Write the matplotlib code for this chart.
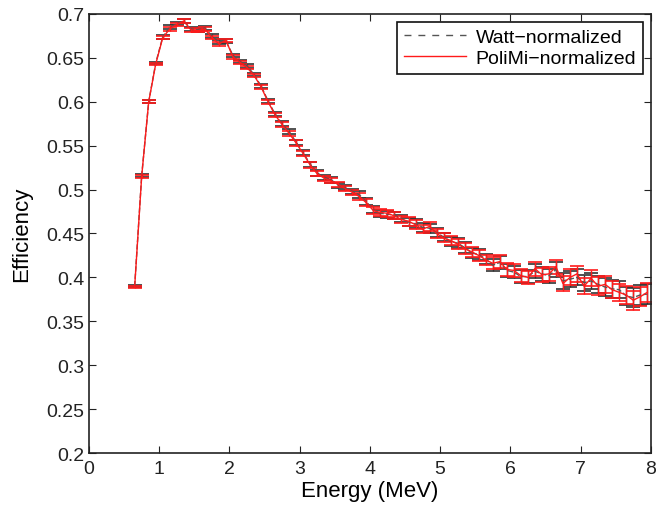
import numpy as np
import matplotlib
matplotlib.use('Agg')
import matplotlib.pyplot as plt
from matplotlib.lines import Line2D

plt.rcParams['font.family'] = ['Liberation Sans', 'DejaVu Sans']

energy = [0.65, 0.75, 0.85, 0.95, 1.05, 1.15, 1.25, 1.35, 1.45, 1.55,
          1.65, 1.75, 1.85, 1.95, 2.05, 2.15, 2.25, 2.35, 2.45, 2.55,
          2.65, 2.75, 2.85, 2.95, 3.05, 3.15, 3.25, 3.35, 3.45, 3.55,
          3.65, 3.75, 3.85, 3.95, 4.05, 4.15, 4.25, 4.35, 4.45, 4.55,
          4.65, 4.75, 4.85, 4.95, 5.05, 5.15, 5.25, 5.35, 5.45, 5.55,
          5.65, 5.75, 5.85, 5.95, 6.05, 6.15, 6.25, 6.35, 6.45, 6.55,
          6.65, 6.75, 6.85, 6.95, 7.05, 7.15, 7.25, 7.35, 7.45, 7.55,
          7.65, 7.75, 7.85, 7.95]

polimi = [0.389, 0.515, 0.600, 0.643, 0.673, 0.683, 0.688, 0.692, 0.682, 0.681,
          0.683, 0.673, 0.666, 0.670, 0.651, 0.645, 0.639, 0.630, 0.617, 0.600,
          0.585, 0.574, 0.564, 0.553, 0.541, 0.528, 0.518, 0.513, 0.510, 0.506,
          0.501, 0.497, 0.492, 0.485, 0.476, 0.474, 0.473, 0.470, 0.466, 0.464,
          0.460, 0.455, 0.458, 0.450, 0.445, 0.442, 0.438, 0.433, 0.429, 0.425,
          0.420, 0.416, 0.418, 0.409, 0.408, 0.402, 0.400, 0.410, 0.403, 0.404,
          0.412, 0.393, 0.400, 0.404, 0.390, 0.399, 0.390, 0.392, 0.386, 0.383,
          0.380, 0.374, 0.378, 0.383]

watt = [0.390, 0.516, 0.600, 0.644, 0.674, 0.685, 0.689, 0.692, 0.683, 0.682,
        0.684, 0.675, 0.668, 0.669, 0.653, 0.646, 0.641, 0.631, 0.618, 0.601,
        0.586, 0.575, 0.566, 0.554, 0.542, 0.529, 0.519, 0.514, 0.511, 0.505,
        0.502, 0.498, 0.494, 0.486, 0.477, 0.473, 0.472, 0.471, 0.467, 0.463,
        0.461, 0.457, 0.456, 0.451, 0.446, 0.441, 0.439, 0.434, 0.428, 0.426,
        0.421, 0.414, 0.417, 0.408, 0.406, 0.401, 0.401, 0.407, 0.404, 0.402,
        0.409, 0.396, 0.398, 0.400, 0.394, 0.396, 0.392, 0.389, 0.387, 0.386,
        0.379, 0.377, 0.380, 0.381]

err = [0.0015, 0.0015, 0.0015, 0.0015, 0.002, 0.002, 0.002, 0.002, 0.002, 0.002,
       0.002, 0.002, 0.002, 0.002, 0.002, 0.002, 0.002, 0.002, 0.002, 0.002,
       0.002, 0.003, 0.003, 0.003, 0.003, 0.003, 0.003, 0.003, 0.003, 0.003,
       0.003, 0.003, 0.004, 0.004, 0.004, 0.004, 0.004, 0.004, 0.004, 0.005,
       0.005, 0.005, 0.005, 0.005, 0.005, 0.005, 0.006, 0.006, 0.006, 0.006,
       0.006, 0.007, 0.007, 0.007, 0.007, 0.007, 0.007, 0.008, 0.008, 0.008,
       0.008, 0.009, 0.009, 0.009, 0.009, 0.009, 0.010, 0.010, 0.010, 0.010,
       0.010, 0.011, 0.011, 0.011]

fig = plt.figure(figsize=(6.56, 5.10), dpi=100)
ax = fig.add_axes([0.1357, 0.1098, 0.8563, 0.8608])

ax.errorbar(energy, watt, yerr=err, color='#555555', ls='--', lw=1.0,
            ecolor='#333333', elinewidth=1.0, capsize=5, capthick=1.2)
ax.errorbar(energy, polimi, yerr=err, color='#ff1a1a', ls='-', lw=1.0,
            ecolor='#ff1a1a', elinewidth=1.0, capsize=5, capthick=1.2)

ax.set_xlim(0, 8)
ax.set_ylim(0.2, 0.7)
ax.set_xticks(range(0, 9))
ax.set_yticks([0.2, 0.25, 0.3, 0.35, 0.4, 0.45, 0.5, 0.55, 0.6, 0.65, 0.7])
ax.set_yticklabels(['0.2', '0.25', '0.3', '0.35', '0.4', '0.45', '0.5',
                    '0.55', '0.6', '0.65', '0.7'])
ax.tick_params(direction='in', top=True, right=True, labelsize=14,
               length=5, width=0.8, colors='#222222')
ax.tick_params(axis='x', pad=5)
for s in ax.spines.values():
    s.set_linewidth(1.2)
    s.set_color('#222222')

ax.set_xlabel('Energy (MeV)', fontsize=16, labelpad=2)
ax.set_ylabel('Efficiency', fontsize=16, labelpad=10)

handles = [Line2D([], [], color='#555555', ls=(0, (5, 5)), lw=1.0),
           Line2D([], [], color='#ff1a1a', ls='-', lw=1.0)]
leg = ax.legend(handles, ['Watt\u2212normalized', 'PoliMi\u2212normalized'],
                loc='upper right', fontsize=14, handlelength=3.2,
                borderaxespad=0.4, fancybox=False, framealpha=1,
                edgecolor='#111111', borderpad=0.35, labelspacing=0.15,
                handletextpad=0.5)
leg.get_frame().set_linewidth(1.2)

fig.savefig('out.png', dpi=100)
